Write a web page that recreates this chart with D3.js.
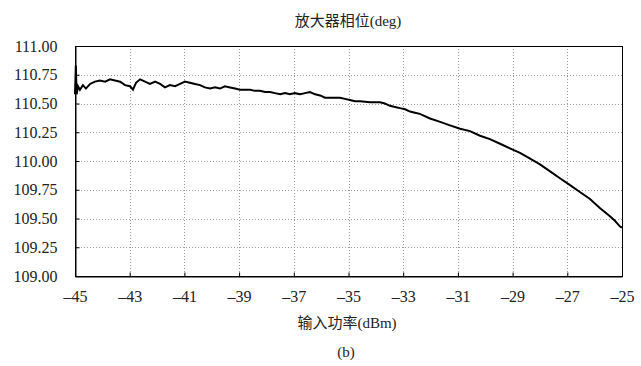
<!DOCTYPE html>
<html><head><meta charset="utf-8">
<script src="https://cdn.jsdelivr.net/npm/d3@7"></script>
<style>body{margin:0;background:#fff}svg{display:block}</style>
</head><body>
<script>
const title = "放大器相位(deg)";
const xTitle = "输入功率(dBm)";
const caption = "(b)";
const xTicks = [-45,-43,-41,-39,-37,-35,-33,-31,-29,-27,-25];
const yTicks = [109.00,109.25,109.50,109.75,110.00,110.25,110.50,110.75,111.00];
const inputPower = [-45.00,-44.97,-44.94,-44.89,-44.82,-44.71,-44.60,-44.45,-44.27,-44.09,-43.90,-43.72,-43.54,-43.35,-43.17,-42.99,-42.88,-42.77,-42.62,-42.44,-42.26,-42.07,-41.89,-41.71,-41.53,-41.34,-41.16,-40.98,-40.80,-40.61,-40.43,-40.25,-40.06,-39.88,-39.70,-39.52,-39.33,-39.15,-38.97,-38.60,-38.42,-38.24,-38.05,-37.87,-37.69,-37.50,-37.32,-37.14,-36.96,-36.77,-36.59,-36.41,-36.22,-36.04,-35.86,-35.68,-35.49,-35.31,-35.13,-34.95,-34.76,-34.58,-34.21,-33.85,-33.67,-33.48,-33.30,-33.12,-32.93,-32.75,-32.57,-32.39,-32.02,-31.65,-31.29,-30.92,-30.56,-30.19,-29.83,-29.46,-29.10,-28.73,-28.36,-28.00,-27.63,-27.27,-26.90,-26.54,-26.17,-25.80,-25.44,-25.26,-25.07,-25.00];
const phase = [110.58,110.83,110.58,110.65,110.62,110.66,110.63,110.67,110.69,110.70,110.69,110.71,110.70,110.69,110.66,110.65,110.62,110.68,110.71,110.69,110.67,110.69,110.67,110.64,110.66,110.65,110.67,110.69,110.68,110.67,110.66,110.64,110.63,110.64,110.63,110.65,110.64,110.63,110.62,110.62,110.61,110.61,110.60,110.60,110.59,110.58,110.59,110.58,110.59,110.58,110.59,110.60,110.58,110.57,110.55,110.55,110.55,110.55,110.54,110.53,110.52,110.52,110.51,110.51,110.50,110.48,110.47,110.46,110.45,110.43,110.42,110.41,110.37,110.34,110.31,110.28,110.26,110.22,110.19,110.15,110.11,110.07,110.02,109.97,109.91,109.85,109.79,109.73,109.67,109.59,109.52,109.48,109.43,109.42];

const W = 641, H = 366;
const m = {l:75, r:19, t:46, b:90};
const svg = d3.select("body").append("svg").attr("width",W).attr("height",H);
const x = d3.scaleLinear().domain([-45,-25]).range([m.l, W-m.r]);
const y = d3.scaleLinear().domain([109,111]).range([H-m.b, m.t]);
const font = "'Liberation Serif','Times New Roman','Noto Sans CJK SC',serif";

// grid
const g = svg.append("g");
g.selectAll(".vg").data(xTicks.slice(1,-1)).join("line")
  .attr("x1",d=>Math.round(x(d))+0.5).attr("x2",d=>Math.round(x(d))+0.5)
  .attr("y1",y(111)).attr("y2",y(109))
  .attr("stroke","#9a9a9a").attr("stroke-width",1).attr("stroke-dasharray","1,2");
g.selectAll(".hg").data(yTicks.slice(1,-1)).join("line")
  .attr("y1",d=>Math.round(y(d))+0.5).attr("y2",d=>Math.round(y(d))+0.5)
  .attr("x1",x(-45)).attr("x2",x(-25))
  .attr("stroke","#9a9a9a").attr("stroke-width",1).attr("stroke-dasharray","1,2");

// axes
const xa = svg.append("g").attr("transform",`translate(0,${Math.round(y(109))+0.5})`)
  .call(d3.axisBottom(x).tickValues(xTicks).tickSizeInner(-4).tickSizeOuter(0).tickPadding(14)
    .tickFormat(d=>"\u2013"+Math.abs(d)));
const ya = svg.append("g").attr("transform",`translate(${Math.round(x(-45))+0.5},0)`)
  .call(d3.axisLeft(y).tickValues(yTicks).tickSizeInner(-4).tickSizeOuter(0).tickPadding(18)
    .tickFormat(d3.format(".2f")));
[xa,ya].forEach(a=>{
  a.selectAll("text").attr("font-family",font).attr("font-size",16).attr("fill","#222");
  a.selectAll("line").attr("stroke","#000");
  a.select(".domain").attr("stroke","#000");
});
// frame
svg.append("rect").attr("x",Math.round(x(-45))+0.5).attr("y",Math.round(y(111))+0.5)
  .attr("width",Math.round(x(-25))-Math.round(x(-45))).attr("height",Math.round(y(109))-Math.round(y(111)))
  .attr("fill","none").attr("stroke","#000").attr("stroke-width",1);

// line
const pts = inputPower.map((v,i)=>[v,phase[i]]);
svg.append("path").datum(pts)
  .attr("d",d3.line().x(d=>x(d[0])).y(d=>y(d[1])).curve(d3.curveLinear))
  .attr("fill","none").attr("stroke","#000").attr("stroke-width",2).attr("stroke-linejoin","miter");

// texts
svg.append("text").attr("x",348).attr("y",26).attr("text-anchor","middle")
  .attr("font-family",font).attr("font-size",15).attr("fill","#222").text(title);
svg.append("text").attr("x",347).attr("y",328).attr("text-anchor","middle")
  .attr("font-family",font).attr("font-size",15).attr("fill","#222").text(xTitle);
svg.append("text").attr("x",346).attr("y",357).attr("text-anchor","middle")
  .attr("font-family",font).attr("font-size",15).attr("fill","#222").text(caption);
</script>
</body></html>
